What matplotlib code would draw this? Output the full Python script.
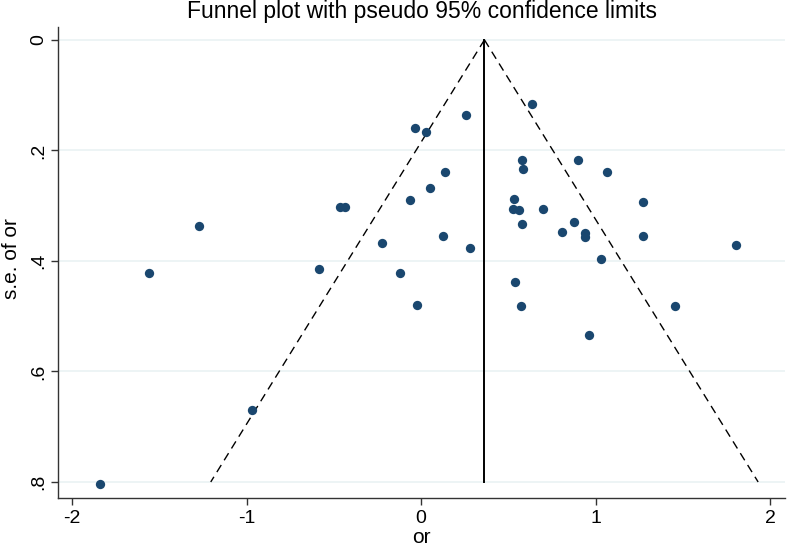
import matplotlib
matplotlib.use("Agg")
import matplotlib.pyplot as plt
import numpy as np

plt.rcParams['font.family'] = ['Liberation Sans', 'DejaVu Sans']
plt.rcParams['axes.unicode_minus'] = False

# log odds ratio and standard error of each study
log_or = [-1.840, -1.560, -1.274, -0.966, -0.583, -0.463, -0.434, -0.223, -0.120, -0.063,
          -0.034, -0.023, 0.029, 0.051, 0.126, 0.137, 0.257, 0.280, 0.526, 0.531,
          0.537, 0.560, 0.571, 0.577, 0.577, 0.583, 0.634, 0.697, 0.806, 0.874,
          0.897, 0.937, 0.937, 0.960, 1.029, 1.063, 1.269, 1.269, 1.457, 1.806]
se_or = [0.804, 0.422, 0.337, 0.670, 0.414, 0.302, 0.302, 0.367, 0.422, 0.290,
         0.159, 0.480, 0.167, 0.268, 0.355, 0.239, 0.136, 0.376, 0.306, 0.288,
         0.438, 0.308, 0.481, 0.217, 0.333, 0.233, 0.116, 0.306, 0.348, 0.329,
         0.217, 0.349, 0.357, 0.534, 0.396, 0.239, 0.293, 0.355, 0.481, 0.371]

pooled = 0.363
se_max = 0.8
xticks = [-2, -1, 0, 1, 2]
yticks = [0, 0.2, 0.4, 0.6, 0.8]
ytick_labels = ['0', '.2', '.4', '.6', '.8']

fig = plt.figure(figsize=(7.87, 5.51), dpi=100)
ax = fig.add_axes([0.0737, 0.0962, 0.924, 0.855])

for y in yticks:
    ax.axhline(y, color='#eaf2f3', lw=1.2, zorder=0)

se_line = np.array([0, se_max])
ax.plot(pooled - 1.96 * se_line, se_line, color='black', lw=1.0, ls=(0, (6, 4)))
ax.plot(pooled + 1.96 * se_line, se_line, color='black', lw=1.0, ls=(0, (6, 4)))
ax.plot([pooled, pooled], se_line, color='black', lw=1.4)

ax.scatter(log_or, se_or, s=45, color='#1a476f', zorder=3, linewidths=0)

ax.set_xlim(-2.08, 2.086)
ax.set_ylim(0.829, -0.0235)
ax.set_xticks(xticks)
ax.set_xticklabels([str(t) for t in xticks])
ax.set_yticks(yticks)
ax.set_yticklabels(ytick_labels, rotation=90, va='center')
ax.tick_params(labelsize=14, length=5, width=1, color='#333333')
ax.tick_params(axis='x', pad=4)
ax.tick_params(axis='y', pad=3)

for s in ['top', 'right']:
    ax.spines[s].set_visible(False)
for s in ['left', 'bottom']:
    ax.spines[s].set_color('#333333')
    ax.spines[s].set_linewidth(1.0)

ax.set_xlabel('or', fontsize=15)
ax.set_ylabel('s.e. of or', fontsize=15)
ax.xaxis.set_label_coords(0.5, -0.063)
ax.yaxis.set_label_coords(-0.051, 0.509)
fig.text(0.536, 0.967, 'Funnel plot with pseudo 95% confidence limits', ha='center', va='baseline', fontsize=16.5)

fig.savefig('out.png', dpi=100)
